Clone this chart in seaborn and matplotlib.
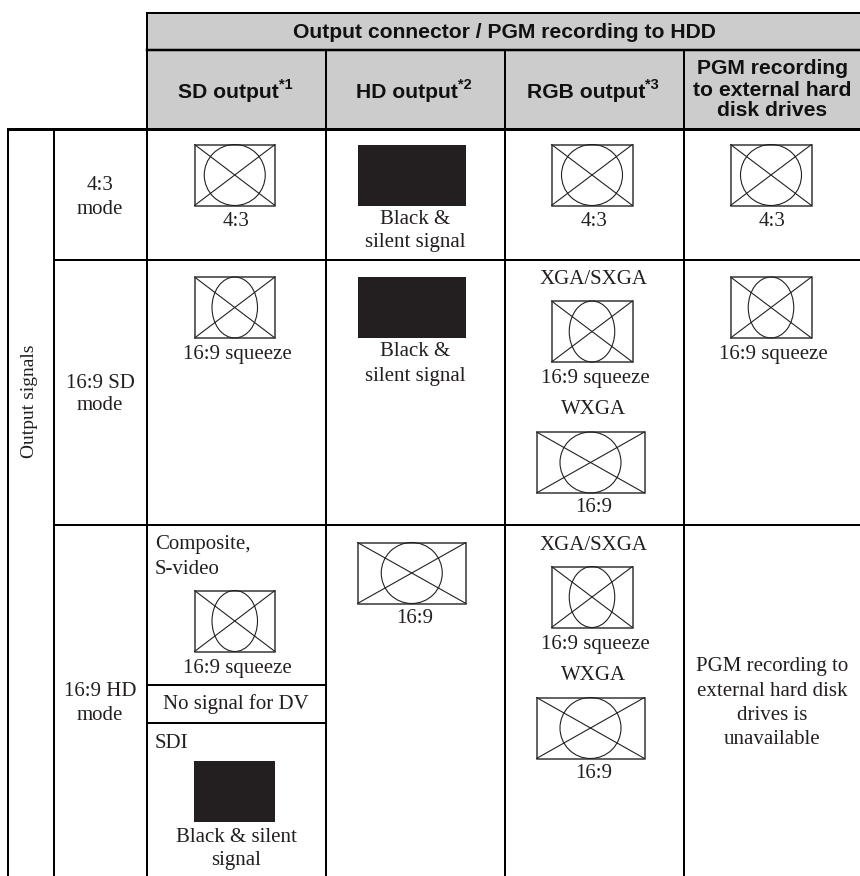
import matplotlib
matplotlib.use("Agg")
import matplotlib.pyplot as plt
from matplotlib.patches import Ellipse, Rectangle
import pandas as pd
import seaborn as sns

# table rules in image pixels: (x0, y0, x1, y1, width in px)
RULES = [
    (147, 12.5, 860, 12.5, 2), (147, 49.5, 860, 49.5, 2.5), (8, 129, 860, 129, 3),
    (53.5, 260, 860, 260, 2), (53.5, 525, 860, 525, 2),
    (147, 685, 326, 685, 2), (147, 722.5, 326, 722.5, 2),
    (8, 129, 8, 876, 2), (53.5, 129, 53.5, 876, 2),
    (147, 12.5, 147, 876, 2), (326, 49.5, 326, 876, 2),
    (505, 49.5, 505, 876, 2), (684, 49.5, 684, 876, 2),
]

HEADER_FILL = (147, 12.5, 860, 129)

COL_LEFTS = [178, 356, 527]
COL_HEADERS = ["SD output", "HD output", "RGB output"]
COL_NOTES = ["*1", "*2", "*3"]
TOP_HEADER = "Output connector / PGM recording to HDD"
LAST_HEADER = ["PGM recording", "to external hard", "disk drives"]

# icons: left, top, width, height, ellipse width (0 = solid black)
ICONS = [
    (194.5, 144.5, 80.5, 61, 61), (357.5, 144.5, 108.5, 61, 0),
    (551.5, 144.5, 81, 61, 61), (730.5, 144.5, 81, 61, 61),
    (194.5, 277, 80.5, 61, 45.5), (357.5, 277, 108.5, 61, 0),
    (551.5, 301, 81, 61, 45.5), (730.5, 277, 81, 61, 45.5),
    (536.5, 432, 108, 61, 61),
    (194.5, 590.5, 80.5, 61, 45.5), (357.5, 542.5, 108.5, 61, 61),
    (551.5, 566.5, 81, 61, 45.5), (536.5, 697.5, 108, 61, 61),
    (194, 761, 81, 61, 0),
]

# body text: x, y, string, alignment
LABELS = [
    (100, 183, "4:3", "center"), (100, 207, "mode", "center"),
    (100, 381, "16:9 SD", "center"), (100, 404, "mode", "center"),
    (100, 690, "16:9 HD", "center"), (100, 713, "mode", "center"),
    (236, 219, "4:3", "center"),
    (415, 217, "Black &", "center"), (415, 241, "silent signal", "center"),
    (594, 219, "4:3", "center"), (772.5, 219, "4:3", "center"),
    (237, 352.5, "16:9 squeeze", "center"),
    (415, 350, "Black &", "center"), (415, 374, "silent signal", "center"),
    (594, 277.5, "XGA/SXGA", "center"), (595, 377, "16:9 squeeze", "center"),
    (594, 408, "WXGA", "center"), (594, 506, "16:9", "center"),
    (773.5, 352.5, "16:9 squeeze", "center"),
    (155, 543, "Composite,", "left"), (155, 567, "S-video", "left"),
    (237, 666.5, "16:9 squeeze", "center"), (236, 702.5, "No signal for DV", "center"),
    (155, 741, "SDI", "left"),
    (236.5, 835, "Black & silent", "center"), (236.5, 859, "signal", "center"),
    (415, 616.5, "16:9", "center"),
    (594, 543, "XGA/SXGA", "center"), (595, 642.5, "16:9 squeeze", "center"),
    (594, 674, "WXGA", "center"), (594, 772, "16:9", "center"),
    (772.5, 665, "PGM recording to", "center"), (772.5, 689, "external hard disk", "center"),
    (772.5, 713, "drives is", "center"), (772.5, 737.5, "unavailable", "center"),
]

INK = "#231f20"
DPI = 100
PX = 72 / DPI  # one image pixel in points
SERIF_SIZE = 15
BOLD_SIZE = 15.2
TEXT_DY = 2  # va="center" sits a little high in the cell


def draw_rules(ax):
    rows = []
    for i, (x0, y0, x1, y1, w) in enumerate(RULES):
        rows.append({"x": x0, "y": y0, "rule": i, "w": w})
        rows.append({"x": x1, "y": y1, "rule": i, "w": w})
    df = pd.DataFrame(rows)
    for w, part in df.groupby("w"):
        sns.lineplot(data=part, x="x", y="y", units="rule", estimator=None, sort=False,
                     color="black", linewidth=w * PX, solid_capstyle="projecting", ax=ax, zorder=5)


def draw_icon(ax, left, top, w, h, ell):
    if ell == 0:
        ax.add_patch(Rectangle((left, top), w, h, fc=INK, ec="none"))
        return
    lw = 1.1 * PX
    ax.add_patch(Rectangle((left, top), w, h, fc="none", ec="#333333", lw=1.5 * PX))
    ax.plot([left, left + w], [top, top + h], color=INK, lw=lw)
    ax.plot([left, left + w], [top + h, top], color=INK, lw=lw)
    ax.add_patch(Ellipse((left + w / 2, top + h / 2), ell, h, fc="none", ec=INK, lw=lw))


def main():
    sns.set_theme(style="white")
    plt.rcParams["font.family"] = ["Liberation Serif", "DejaVu Serif"]

    fig = plt.figure(figsize=(8.6, 8.76), dpi=DPI)
    ax = fig.add_axes([0, 0, 1, 1])

    x0, y0, x1, y1 = HEADER_FILL
    ax.add_patch(Rectangle((x0, y0), x1 - x0, y1 - y0, fc="#cccccc", ec="none"))

    draw_rules(ax)
    for icon in ICONS:
        draw_icon(ax, *icon)

    bold = dict(family="Liberation Sans", weight="bold", size=BOLD_SIZE, color="#111111")
    ax.text(504.5, 30.5 + TEXT_DY, TOP_HEADER, ha="center", va="center", **bold)
    for left, name, note in zip(COL_LEFTS, COL_HEADERS, COL_NOTES):
        t = ax.text(left, 98, name, ha="left", va="baseline", **bold)
        ax.annotate(note, xy=(1, 0), xycoords=t, xytext=(0, 7.5), textcoords="offset points",
                    family="Liberation Sans", weight="bold", size=10.5, color="#111111",
                    ha="left", va="bottom")
    for y, line in zip([67, 88, 109], LAST_HEADER):
        ax.text(772.5, y + TEXT_DY, line, ha="center", va="center", **bold)

    for x, y, s, ha in LABELS:
        ax.text(x, y + TEXT_DY, s, ha=ha, va="center", size=SERIF_SIZE, color=INK)
    ax.text(30, 401, "Output signals", rotation=90, ha="center", va="center",
            size=14, color=INK)

    ax.set_xlim(0, 860)
    ax.set_ylim(876, 0)
    ax.set_xlabel("")
    ax.set_ylabel("")
    ax.axis("off")
    fig.savefig("out.png", dpi=DPI)


if __name__ == "__main__":
    main()
